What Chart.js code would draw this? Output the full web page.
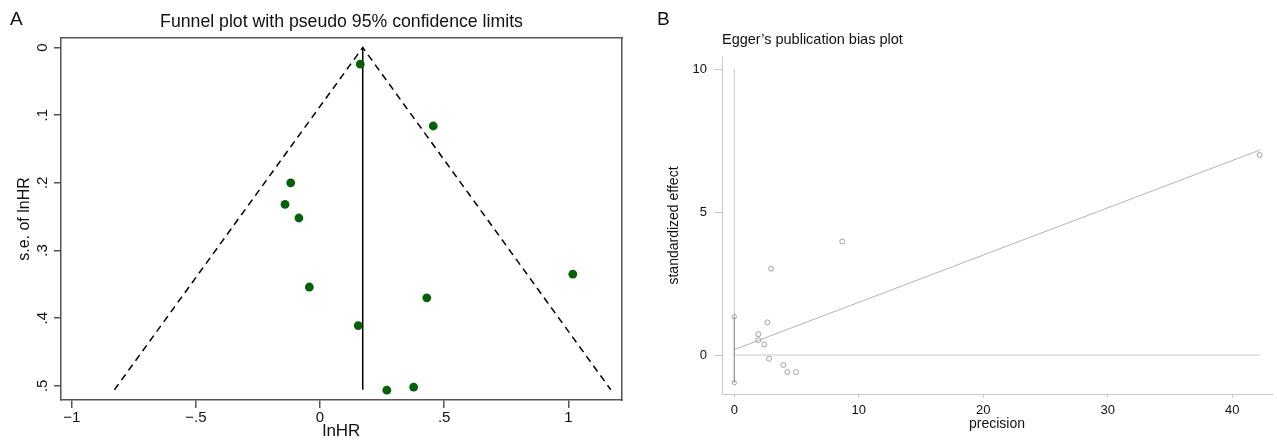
<!DOCTYPE html>
<html>
<head>
<meta charset="utf-8">
<script src="https://cdn.jsdelivr.net/npm/chart.js@4.4.0/dist/chart.umd.min.js"></script>
<style>
  html, body { margin: 0; padding: 0; background: #fff; }
  body { width: 1277px; height: 442px; position: relative; overflow: hidden; font-family: "Liberation Sans", Arial, sans-serif; }
  .panel { position: absolute; top: 0; height: 442px; }
  #panelA { left: 0; width: 640px; }
  #panelB { left: 640px; width: 637px; }
  .tag { position: absolute; font-size: 19px; color: #111; line-height: 1; }
</style>
</head>
<body>
<div class="panel" id="panelA"><canvas id="funnelChart"></canvas></div>
<div class="panel" id="panelB"><canvas id="eggerChart"></canvas></div>
<div class="tag" style="left:10px; top:9px">A</div>
<div class="tag" style="left:657px; top:9px">B</div>
<script>
// panel A - funnel plot
const lnHR   = [0.162, 0.456, -0.118, -0.141, -0.085, -0.043, 0.154, 0.430, 1.018, 0.269, 0.377];
const seLnHR = [0.0247, 0.116, 0.200, 0.232, 0.252, 0.354, 0.411, 0.370, 0.335, 0.5065, 0.502];
const pooledX  = [0.172, 0.172];
const pooledSE = [0, 0.506];
const limitX   = [-0.828, 0.172, 1.171];
const limitSE  = [0.506, 0, 0.506];
const funnelXTicks  = [-1, -0.5, 0, 0.5, 1];
const funnelXLabels = ["\u22121", "\u2212.5", "0", ".5", "1"];
const funnelYTicks  = [0, 0.1, 0.2, 0.3, 0.4, 0.5];
const funnelYLabels = ["0", ".1", ".2", ".3", ".4", ".5"];

// panel B - Egger's plot
const precision = [8.67, 2.95, 2.65, 1.93, 1.93, 2.41, 2.79, 3.94, 4.26, 4.96, 42.2];
const stdEffect = [3.97, 3.02, 1.14, 0.73, 0.52, 0.37, -0.13, -0.35, -0.60, -0.60, 7.0];
const fitPrecision  = [0, 42.2];
const fitEffect     = [0.19, 7.17];
const zeroPrecision = [0, 42.2];
const zeroEffect    = [0, 0];
const axisPrecision = [0, 0];
const axisEffect    = [-0.97, 10];
const ciPrecision   = [0, 0];
const ciEffect      = [1.34, -0.97];
const eggerXTicks = [0, 10, 20, 30, 40];
const eggerYTicks = [0, 5, 10];

Chart.defaults.font.family = "'Liberation Sans', Arial, sans-serif";
Chart.defaults.color = "#111";
Chart.defaults.animation = false;

function toXY(xs, ys) {
  return xs.map((x, i) => ({ x: x, y: ys[i] }));
}

const boxColor = "#555";

new Chart(document.getElementById("funnelChart"), {
  type: "scatter",
  data: {
    datasets: [
      {
        data: toXY(lnHR, seLnHR),
        pointRadius: 4.4,
        backgroundColor: "#06600a",
        borderWidth: 0
      },
      {
        data: toXY(pooledX, pooledSE),
        showLine: true,
        borderColor: "#000",
        borderWidth: 1.5,
        pointRadius: 0
      },
      {
        data: toXY(limitX, limitSE),
        showLine: true,
        borderColor: "#000",
        borderWidth: 1.5,
        borderDash: [7, 5],
        pointRadius: 0
      }
    ]
  },
  options: {
    responsive: true,
    maintainAspectRatio: false,
    events: [],
    layout: { padding: { left: 0, right: 18, top: 0, bottom: 0 } },
    plugins: {
      legend: { display: false },
      tooltip: { enabled: false },
      title: {
        display: true,
        text: "Funnel plot with pseudo 95% confidence limits",
        fullSize: false,
        font: { size: 17.7, weight: "normal", lineHeight: 1.2 },
        color: "#111",
        padding: { top: 11.4, bottom: 5.4 }
      }
    },
    scales: {
      x: {
        type: "linear",
        position: "bottom",
        min: -1.043,
        max: 1.216,
        afterBuildTicks: s => { s.ticks = funnelXTicks.map(v => ({ value: v })); },
        afterFit: s => { s.height = 42; },
        ticks: {
          font: { size: 15 },
          padding: 1,
          maxRotation: 0,
          autoSkip: false,
          callback: v => funnelXLabels[funnelXTicks.indexOf(v)]
        },
        grid: { drawOnChartArea: false, tickLength: 8, color: boxColor, lineWidth: 1.5 },
        border: { color: boxColor, width: 1.5 },
        title: { display: true, text: "lnHR", font: { size: 17 }, padding: { top: 0, bottom: 0 } }
      },
      y: {
        type: "linear",
        position: "left",
        reverse: true,
        min: -0.014,
        max: 0.521,
        afterBuildTicks: s => { s.ticks = funnelYTicks.map(v => ({ value: v })); },
        afterFit: s => { s.width = 61; },
        ticks: {
          font: { size: 15 },
          minRotation: 90,
          maxRotation: 90,
          crossAlign: "center",
          padding: 5,
          autoSkip: false,
          callback: v => funnelYLabels[funnelYTicks.indexOf(v)]
        },
        grid: { drawOnChartArea: false, tickLength: 7, color: boxColor, lineWidth: 1.5 },
        border: { color: boxColor, width: 1.5 },
        title: { display: true, text: "s.e. of lnHR", font: { size: 16 }, padding: { top: 15.4, bottom: 0 } }
      },
      x2: {
        type: "linear",
        position: "top",
        min: -1.043,
        max: 1.216,
        afterFit: s => { s.height = 0; },
        ticks: { display: false },
        grid: { drawOnChartArea: false, drawTicks: false },
        border: { color: boxColor, width: 1.5 }
      },
      y2: {
        type: "linear",
        position: "right",
        min: -0.014,
        max: 0.521,
        afterFit: s => { s.width = 0; },
        ticks: { display: false },
        grid: { drawOnChartArea: false, drawTicks: false },
        border: { color: boxColor, width: 1.5 }
      }
    }
  }
});

const eggerAxis = "#c8c8c8";
const eggerMark = "#9a9a9a";

new Chart(document.getElementById("eggerChart"), {
  type: "scatter",
  data: {
    datasets: [
      {
        data: toXY(precision, stdEffect),
        pointRadius: 2.5,
        backgroundColor: "rgba(0,0,0,0)",
        borderColor: eggerMark,
        borderWidth: 0.9
      },
      {
        data: toXY(ciPrecision, ciEffect),
        showLine: true,
        borderColor: eggerMark,
        borderWidth: 1.2,
        pointRadius: 2.2,
        pointBackgroundColor: "rgba(0,0,0,0)",
        pointBorderColor: eggerMark,
        pointBorderWidth: 0.9
      },
      {
        data: toXY(fitPrecision, fitEffect),
        showLine: true,
        borderColor: "#b4b4b4",
        borderWidth: 1,
        pointRadius: 0
      },
      {
        data: toXY(zeroPrecision, zeroEffect),
        showLine: true,
        borderColor: eggerAxis,
        borderWidth: 1,
        pointRadius: 0
      },
      {
        data: toXY(axisPrecision, axisEffect),
        showLine: true,
        borderColor: eggerAxis,
        borderWidth: 1,
        pointRadius: 0
      }
    ]
  },
  options: {
    responsive: true,
    maintainAspectRatio: false,
    events: [],
    layout: { padding: { left: 0, right: 5, top: 0, bottom: 0 } },
    plugins: {
      legend: { display: false },
      tooltip: { enabled: false },
      title: {
        display: true,
        text: "Egger\u2019s publication bias plot",
        align: "start",
        fullSize: false,
        font: { size: 14.5, weight: "normal", lineHeight: 1.2 },
        color: "#111",
        padding: { top: 31.3, bottom: 8.3 }
      }
    },
    scales: {
      x: {
        type: "linear",
        position: "bottom",
        min: -0.99,
        max: 43.19,
        afterBuildTicks: s => { s.ticks = eggerXTicks.map(v => ({ value: v })); },
        afterFit: s => { s.height = 48; },
        ticks: { font: { size: 13 }, padding: 5, maxRotation: 0, autoSkip: false },
        grid: { drawOnChartArea: false, tickLength: 4, color: eggerAxis, lineWidth: 1 },
        border: { color: eggerAxis, width: 1 },
        title: { display: true, text: "precision", font: { size: 14 }, padding: { top: 0, bottom: 9 } }
      },
      y: {
        type: "linear",
        position: "left",
        min: -1.365,
        max: 10.43,
        afterBuildTicks: s => { s.ticks = eggerYTicks.map(v => ({ value: v })); },
        afterFit: s => { s.width = 82; },
        ticks: { font: { size: 13 }, padding: 7, autoSkip: false },
        grid: { drawOnChartArea: false, tickLength: 8, color: eggerAxis, lineWidth: 1 },
        border: { color: eggerAxis, width: 1 },
        title: { display: true, text: "standardized effect", font: { size: 14 }, padding: { top: 25.6, bottom: 0 } }
      }
    }
  }
});
</script>
</body>
</html>
